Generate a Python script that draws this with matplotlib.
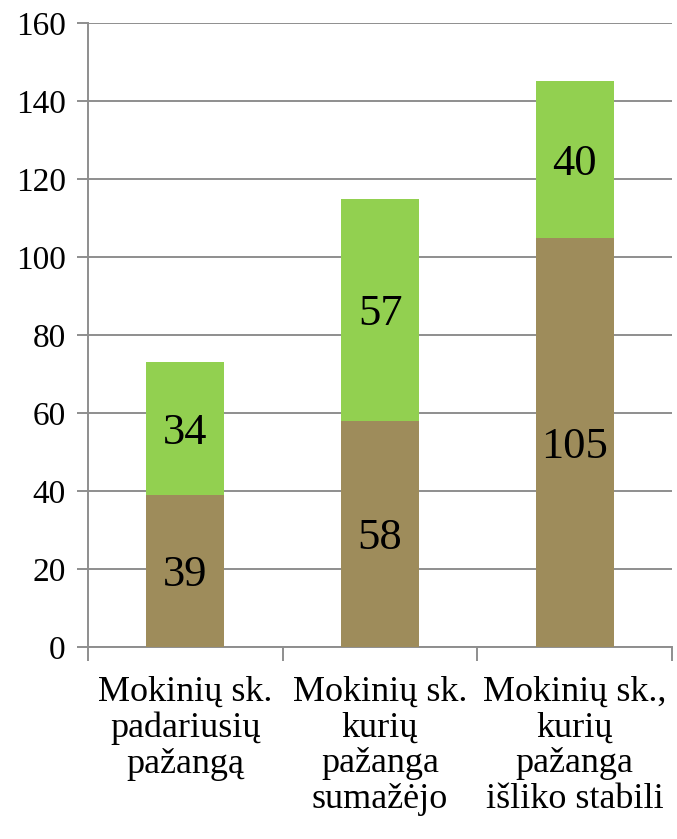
import matplotlib.pyplot as plt
import numpy as np

plt.rcParams['font.family'] = ['Liberation Serif', 'DejaVu Serif']

categories = ["Mokinių sk.\npadariusių\npažangą",
              "Mokinių sk.\nkurių\npažanga\nsumažėjo",
              "Mokinių sk.,\nkurių\npažanga\nišliko stabili"]
lower = [39, 58, 105]
upper = [34, 57, 40]

brown = "#9E8C5B"
green = "#92D050"
grid_col = "#8E8E8E"

fig = plt.figure(figsize=(6.77, 8.39), dpi=100)
ax = fig.add_axes([0.130, 0.2288, 0.8626, 0.7438])

x = np.arange(len(categories))
b1 = ax.bar(x, lower, width=0.4, color=brown, zorder=3)
b2 = ax.bar(x, upper, width=0.4, bottom=lower, color=green, zorder=3)

for bars, vals, base in [(b1, lower, [0, 0, 0]), (b2, upper, lower)]:
    for rect, v, b in zip(bars, vals, base):
        ax.text(rect.get_x() + rect.get_width() / 2, b + v / 2, str(v),
                ha="center", va="center_baseline", fontsize=32, zorder=4)

ax.set_xlim(-0.5, 2.5)
ax.set_ylim(0, 160)
ax.set_yticks(range(0, 161, 20))
ax.yaxis.grid(True, color=grid_col, linewidth=1.4, zorder=0)

# category boundaries carry the x tick marks, labels sit at the centres
ax.set_xticks([-0.5, 0.5, 1.5, 2.5])
ax.set_xticklabels([])
ax.set_xticks(x, minor=True)
ax.set_xticklabels(categories, minor=True, fontsize=26, linespacing=1.1)
ax.tick_params(axis="x", which="minor", length=0, pad=21)
ax.tick_params(axis="x", which="major", length=10, width=1.4, color=grid_col)
ax.tick_params(axis="y", length=8, width=1.4, color=grid_col, labelsize=24, pad=8)

for side in ["top", "right"]:
    ax.spines[side].set_visible(False)
for side in ["left", "bottom"]:
    ax.spines[side].set_color(grid_col)
    ax.spines[side].set_linewidth(1.4)

fig.savefig("out.png", dpi=100)
